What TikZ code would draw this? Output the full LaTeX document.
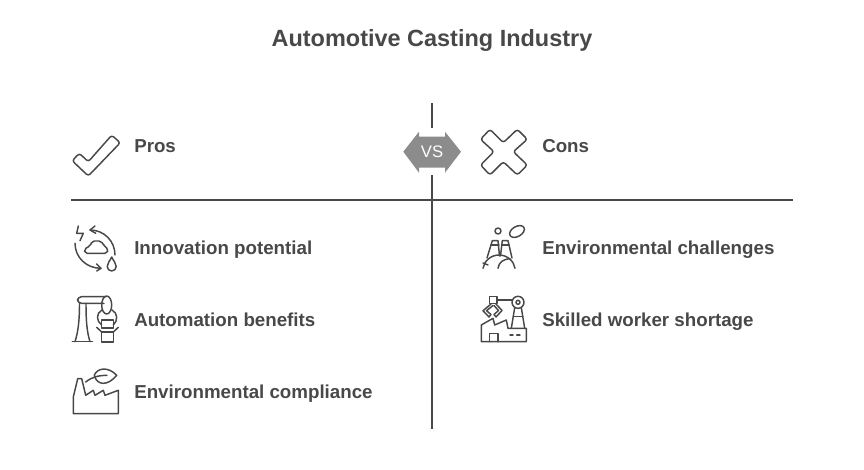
\documentclass[tikz,border=0pt]{standalone}
\usepackage{fontspec}
\setmainfont{Liberation Sans}
\usetikzlibrary{positioning}
\definecolor{ink}{HTML}{484848}
\definecolor{vsfill}{HTML}{8C8C8C}
\tikzset{
  ruleline/.style={line width=1.5pt, draw=ink},
  iconline/.style={line width=1.1pt, draw=ink, line join=round, line cap=round},
  rowlbl/.style={font=\fontsize{14.05}{16}\selectfont\bfseries, text=ink, anchor=base west, inner sep=0pt},
  titlelbl/.style={font=\fontsize{17.6}{20}\selectfont\bfseries, text=ink, anchor=base, inner sep=0pt},
  vslbl/.style={font=\fontsize{12.5}{14}\selectfont, text=white, minimum width=19.5pt, minimum height=35pt, inner sep=0pt}
}
\begin{document}
\begin{tikzpicture}[x=0.75pt, y=-0.75pt]
  \useasboundingbox (0,0) rectangle (864,469);

  % ---- Title ---------------------------------------------------------------
  \node[titlelbl] (title) at (432, 46.5) {Automotive Casting Industry};

  % ---- VS badge ------------------------------------------------------------
  \fill[vsfill] (403.3,151.7) -- (419,131.7) -- (419,136.7) -- (445,136.7) -- (445,131.7)
        -- (461,151.7) -- (445,172.7) -- (445,167.7) -- (419,167.7) -- (419,172.7) -- cycle;
  \node[vslbl] (vs) at (432, 151.7) {VS};

  % ---- Rules ---------------------------------------------------------------
  \coordinate (vtop) at (432, 103);
  \coordinate (vbot) at (432, 429);
  \coordinate (hleft) at (71, 200);
  \coordinate (hright) at (793, 200);
  \draw[ruleline] (vtop) -- (vs.north);
  \draw[ruleline] (vs.south) -- (vbot);
  \draw[ruleline] (hleft) -- (hright);

  % ---- Labels --------------------------------------------------------------
  \node[rowlbl] (pros) at (134, 152.3) {Pros};
  \node[rowlbl] (innov) at (134, 254.3) {Innovation potential};
  \node[rowlbl] (autom) at (134, 326.3) {Automation benefits};
  \node[rowlbl] (compl) at (134, 398.3) {Environmental compliance};
  \node[rowlbl] (cons) at (542, 152.3) {Cons};
  \node[rowlbl] (chall) at (542, 254.3) {Environmental challenges};
  \node[rowlbl] (skill) at (542, 326.3) {Skilled worker shortage};

  % ---- Check mark and cross ------------------------------------------------
  \draw[iconline, rounded corners=2pt] (72.2,160.7) -- (79.3,153.3) -- (88.3,161.7)
        -- (111.7,135.2) -- (120.3,142.7) -- (88.3,176) -- cycle;
  \draw[iconline, rounded corners=2pt] (480.5,139.3) -- (490,129.3) -- (503.3,142.7) -- (517.3,129.3)
        -- (527.3,139.3) -- (513.3,151.7) -- (527.3,165) -- (517.3,175) -- (503.3,161.7)
        -- (490,175) -- (480.5,165) -- (494,151.7) -- cycle;

  % ---- Innovation icon -----------------------------------------------------
  \draw[iconline] (78.3,226) -- (76.7,233.3) -- (83.3,233.3) -- (80,240.7);
  \draw[iconline] (115,255) .. controls (115,241) and (104,230) .. (90,230);
  \draw[iconline] (95,226) -- (90,230) -- (95.7,233.3);
  \draw[iconline] (75,243.3) .. controls (75,257) and (86,268.3) .. (101,268.3);
  \draw[iconline] (96.7,264) -- (101,268.3) -- (96.7,271);
  \draw[iconline, rounded corners=1.5pt] (85,253.3) -- (84.3,249) -- (90,246) -- (92.3,241) -- (101,241)
        -- (104.3,246) -- (108.3,249.3) -- (107,253.3) -- cycle;
  \draw[iconline] (111.7,257) .. controls (110,261) and (107.2,263) .. (107.2,266.5)
        arc[start angle=180, end angle=0, x radius=4.5, y radius=4.5]
        .. controls (116.2,263) and (113.4,261) .. (111.7,257);

  % ---- Automation icon -----------------------------------------------------
  \draw[iconline] (72.3,341.7) -- (92.5,341.7);
  \draw[iconline] (75,341.7) .. controls (78,332) and (79.5,322) .. (79.5,303.3);
  \draw[iconline] (90,341.7) .. controls (87,332) and (86,322) .. (86,303.3);
  \draw[iconline, rounded corners=3pt] (106,296.7) -- (77.5,296.7) -- (77.5,303.3) -- (104,303.3);
  \draw[iconline] (106.7,305) ellipse[x radius=5, y radius=9];
  \draw[iconline] (102,310) .. controls (96,313) and (96,321) .. (101.7,325);
  \draw[iconline] (112,310) .. controls (118,313) and (118,321) .. (113.3,325);
  \draw[iconline] (101.7,320) rectangle (113.3,328);
  \draw[iconline] (101.7,332) rectangle (113.3,342);
  \draw[iconline] (96.7,327.3) -- (101.7,332);
  \draw[iconline] (118.3,327.3) -- (113.3,332);

  % ---- Compliance icon -----------------------------------------------------
  \draw[iconline] (73.3,413.7) -- (73.3,397) -- (77.7,378.7) -- (81.7,378.7) -- (85.7,395.3)
        -- (93.3,390.3) -- (95,395.3) -- (103.3,390.3) -- (105,395.3) -- (118.3,390.3)
        -- (118.3,413.7) -- cycle;
  \draw[iconline] (94.3,375.3) .. controls (97,368) and (108,366) .. (116.7,375.3)
        .. controls (108,386) and (97,386) .. (94.3,375.3) -- cycle;
  \draw[iconline] (85.7,382) .. controls (92,377) and (98,375.5) .. (107,375.3);

  % ---- Challenges icon -----------------------------------------------------
  \draw[iconline] (498,231) circle[radius=3];
  \draw[iconline, rotate around={30:(517,231.5)}] (517,231.5) ellipse[x radius=8, y radius=5];
  \draw[iconline] (487,258) -- (492.3,240.7) -- (498,240.7) -- (499.5,256);
  \draw[iconline] (500.5,256) -- (502.3,240.7) -- (508,240.7) -- (512,258);
  \draw[iconline] (491,245) -- (499,245);
  \draw[iconline] (501.5,245) -- (509,245);
  \draw[iconline] (483,268.3) .. controls (484,261) and (491,255) .. (499,255)
        .. controls (507,255) and (514,261) .. (515,268.3);
  \draw[iconline] (483,263) -- (488,265);
  \draw[iconline] (498,268.3) .. controls (499,262) and (503,259.5) .. (510,258.5);

  % ---- Shortage icon -------------------------------------------------------
  \draw[iconline] (489.7,296.7) rectangle (497,303.3);
  \draw[iconline] (491,304) -- (483,310.7) -- (489,317) -- (491,314.5) -- (486.5,310.7) -- (493,305.5);
  \draw[iconline] (496,304) -- (502,310.5) -- (496,317) -- (494,314.5) -- (498.5,310.5) -- (494,305.5);
  \draw[iconline] (497,300) -- (512.5,300);
  \draw[iconline] (518,302.3) circle[radius=6];
  \draw[iconline] (518,302.3) circle[radius=2];
  \draw[iconline] (514.7,307.7) -- (511.3,328.3);
  \draw[iconline] (521.3,307.7) -- (524.7,328.3);
  \draw[iconline] (513.3,316.7) -- (522.7,316.7);
  \draw[iconline] (481.3,341.7) -- (481.3,325) -- (493,318.3) -- (494.7,325) -- (506.3,320)
        -- (508,328.3) -- (526.3,328.3) -- (526.3,341.7) -- cycle;
  \draw[iconline] (489.7,341.7) -- (489.7,333.3) -- (498,333.3) -- (498,341.7);
  \draw[iconline] (510,335) -- (513,335);
  \draw[iconline] (516.7,335) -- (520,335);
\end{tikzpicture}
\end{document}
